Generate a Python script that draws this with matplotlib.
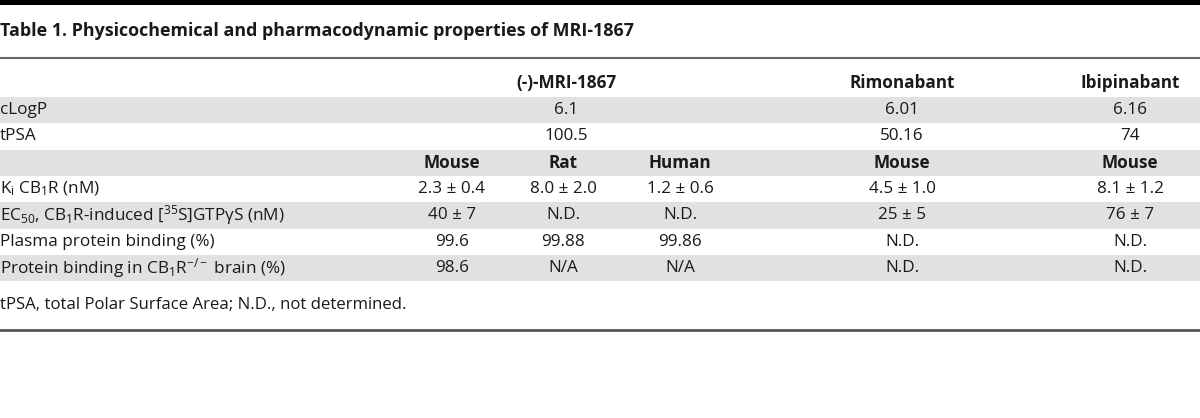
import matplotlib
matplotlib.use('Agg')
import matplotlib.pyplot as plt

plt.rcParams['font.family'] = ['Open Sans', 'DejaVu Sans']
plt.rcParams['mathtext.default'] = 'regular'

title = 'Table 1. Physicochemical and pharmacodynamic properties of MRI-1867'
compounds = ['(-)-MRI-1867', 'Rimonabant', 'Ibipinabant']
species = ['Mouse', 'Rat', 'Human', 'Mouse', 'Mouse']
row_labels = ['K$_{i}$ CB$_{1}$R (nM)',
              'EC$_{50}$, CB$_{1}$R-induced [$^{35}$S]GTPγS (nM)',
              'Plasma protein binding (%)',
              'Protein binding in CB$_{1}$R$^{-/-}$ brain (%)']
shared_labels = ['cLogP', 'tPSA']
clogp = ['6.1', '6.01', '6.16']
tpsa = ['100.5', '50.16', '74']
ki = ['2.3 ± 0.4', '8.0 ± 2.0', '1.2 ± 0.6', '4.5 ± 1.0', '8.1 ± 1.2']
ec50 = ['40 ± 7', 'N.D.', 'N.D.', '25 ± 5', '76 ± 7']
plasma = ['99.6', '99.88', '99.86', 'N.D.', 'N.D.']
brain = ['98.6', 'N/A', 'N/A', 'N.D.', 'N.D.']
footnote = 'tPSA, total Polar Surface Area; N.D., not determined.'

W, H = 1200, 418
fig = plt.figure(figsize=(W / 100, H / 100), dpi=100)
ax = fig.add_axes([0, 0, 1, 1])
ax.set_xlim(0, W)
ax.set_ylim(H, 0)
ax.axis('off')

ink = '#1a1a1a'
band = '#e1e1e1'
fs = 12.3

# column centres (pixels)
col_x = [452, 563, 680, 902, 1130]
cmp_x = [566, 902, 1130]

row_top = 97
row_h = 26.3

# rules
ax.axhspan(0, 4.5, color='black', lw=0)
ax.axhline(57.5, color='#666666', lw=1.5)
ax.axhline(330, color='#555555', lw=2)

ax.text(0, 31, title, fontsize=12.9, fontweight='bold', color=ink,
        ha='left', va='center')

for x, name in zip(cmp_x, compounds):
    ax.text(x, 83, name, fontsize=fs, fontweight='bold', color=ink,
            ha='center', va='center')

rows = [(shared_labels[0], clogp, True),
        (shared_labels[1], tpsa, True),
        ('', species, False)] + [(lab, vals, False) for lab, vals in
                                 zip(row_labels, [ki, ec50, plasma, brain])]

for i, (lab, vals, shared) in enumerate(rows):
    y0 = row_top + i * row_h
    yc = y0 + row_h / 2
    if i % 2 == 0:
        ax.axhspan(y0, y0 + row_h, color=band, lw=0, zorder=0)
    if lab:
        ax.text(0, yc, lab, fontsize=fs, color=ink, ha='left', va='center')
    xs = cmp_x if shared else col_x
    bold = 'bold' if vals is species else 'normal'
    for x, v in zip(xs, vals):
        ax.text(x, yc, v, fontsize=fs, color=ink, fontweight=bold,
                ha='center', va='center')

ax.text(0, 305, footnote, fontsize=12.1, color=ink, ha='left', va='center')

fig.savefig('out.png', dpi=100)
